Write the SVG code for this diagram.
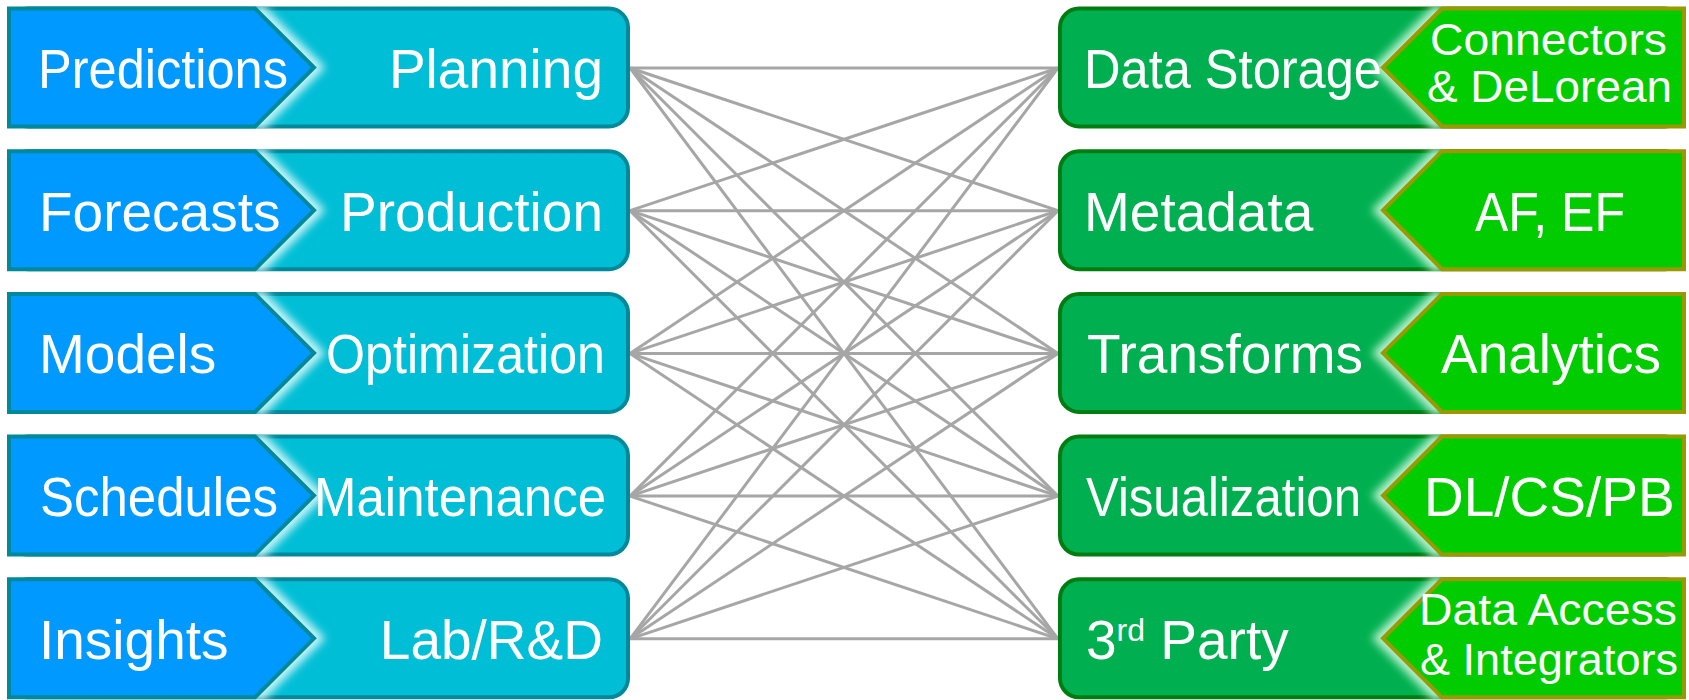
<svg xmlns="http://www.w3.org/2000/svg" width="1689" height="700" viewBox="0 0 1689 700">
  <style>
    .lbl { font-family: "Liberation Sans", Arial, sans-serif; font-size: 55px; fill: #ffffff; }
    .sm { font-size: 44px; }
    .end { text-anchor: end; }
    .box-l { fill: #00BED6; stroke: #00899A; stroke-width: 4; }
    .chev-l { fill: #0099FF; stroke: #00899A; stroke-width: 4; stroke-linejoin: miter; }
    .glow-l { fill: none; stroke: #C8F4F8; stroke-width: 16; filter: url(#blur); }
    .box-r { fill: #00B050; stroke: #007D10; stroke-width: 4; }
    .chev-r { fill: #00CC00; stroke: #999900; stroke-width: 4; stroke-linejoin: miter; }
    .glow-r { fill: none; stroke: #B8F0CE; stroke-width: 16; filter: url(#blur); }
    .links line { stroke: #A6A6A6; stroke-width: 3; }
  </style>
  <defs>
    <filter id="blur" x="-100%" y="-20%" width="300%" height="140%">
      <feGaussianBlur stdDeviation="4"/>
    </filter>
    <clipPath id="clipL"><rect x="7" y="6.5" width="623" height="122" rx="21"/></clipPath>
    <clipPath id="clipR"><rect x="1058" y="6.5" width="628" height="122" rx="21"/></clipPath>
  </defs>

  <rect width="1689" height="700" fill="#ffffff"/>

  <!-- every output on the left is linked to every service on the right -->
  <g id="connectors" class="links">
    <line x1="630" y1="68" x2="1058" y2="68"/>
    <line x1="630" y1="68" x2="1058" y2="210.7"/>
    <line x1="630" y1="68" x2="1058" y2="353.4"/>
    <line x1="630" y1="68" x2="1058" y2="496.1"/>
    <line x1="630" y1="68" x2="1058" y2="638.8"/>
    <line x1="630" y1="210.7" x2="1058" y2="68"/>
    <line x1="630" y1="210.7" x2="1058" y2="210.7"/>
    <line x1="630" y1="210.7" x2="1058" y2="353.4"/>
    <line x1="630" y1="210.7" x2="1058" y2="496.1"/>
    <line x1="630" y1="210.7" x2="1058" y2="638.8"/>
    <line x1="630" y1="353.4" x2="1058" y2="68"/>
    <line x1="630" y1="353.4" x2="1058" y2="210.7"/>
    <line x1="630" y1="353.4" x2="1058" y2="353.4"/>
    <line x1="630" y1="353.4" x2="1058" y2="496.1"/>
    <line x1="630" y1="353.4" x2="1058" y2="638.8"/>
    <line x1="630" y1="496.1" x2="1058" y2="68"/>
    <line x1="630" y1="496.1" x2="1058" y2="210.7"/>
    <line x1="630" y1="496.1" x2="1058" y2="353.4"/>
    <line x1="630" y1="496.1" x2="1058" y2="496.1"/>
    <line x1="630" y1="496.1" x2="1058" y2="638.8"/>
    <line x1="630" y1="638.8" x2="1058" y2="68"/>
    <line x1="630" y1="638.8" x2="1058" y2="210.7"/>
    <line x1="630" y1="638.8" x2="1058" y2="353.4"/>
    <line x1="630" y1="638.8" x2="1058" y2="496.1"/>
    <line x1="630" y1="638.8" x2="1058" y2="638.8"/>
  </g>

  <!-- left column: chevron output + business area -->
  <g id="node-planning">
    <rect class="box-l" x="9" y="8.5" width="619" height="118" rx="19"/>
    <polyline class="glow-l" clip-path="url(#clipL)" points="255,8.5 314,67.5 255,126.5"/>
    <polygon class="chev-l" points="9,8.5 255,8.5 314,67.5 255,126.5 9,126.5"/>
    <text class="lbl" x="38" y="88" textLength="250" lengthAdjust="spacingAndGlyphs">Predictions</text>
    <text class="lbl end" x="603" y="88">Planning</text>
  </g>
  <g id="node-production" transform="translate(0,142.7)">
    <rect class="box-l" x="9" y="8.5" width="619" height="118" rx="19"/>
    <polyline class="glow-l" clip-path="url(#clipL)" points="255,8.5 314,67.5 255,126.5"/>
    <polygon class="chev-l" points="9,8.5 255,8.5 314,67.5 255,126.5 9,126.5"/>
    <text class="lbl" x="39" y="88">Forecasts</text>
    <text class="lbl end" x="603" y="88">Production</text>
  </g>
  <g id="node-optimization" transform="translate(0,285.4)">
    <rect class="box-l" x="9" y="8.5" width="619" height="118" rx="19"/>
    <polyline class="glow-l" clip-path="url(#clipL)" points="255,8.5 314,67.5 255,126.5"/>
    <polygon class="chev-l" points="9,8.5 255,8.5 314,67.5 255,126.5 9,126.5"/>
    <text class="lbl" x="39" y="88">Models</text>
    <text class="lbl" x="326" y="88" textLength="279" lengthAdjust="spacingAndGlyphs">Optimization</text>
  </g>
  <g id="node-maintenance" transform="translate(0,428.1)">
    <rect class="box-l" x="9" y="8.5" width="619" height="118" rx="19"/>
    <polyline class="glow-l" clip-path="url(#clipL)" points="255,8.5 314,67.5 255,126.5"/>
    <polygon class="chev-l" points="9,8.5 255,8.5 314,67.5 255,126.5 9,126.5"/>
    <text class="lbl" x="40" y="88" textLength="238" lengthAdjust="spacingAndGlyphs">Schedules</text>
    <text class="lbl" x="314" y="88" textLength="292" lengthAdjust="spacingAndGlyphs">Maintenance</text>
  </g>
  <g id="node-lab" transform="translate(0,570.8)">
    <rect class="box-l" x="9" y="8.5" width="619" height="118" rx="19"/>
    <polyline class="glow-l" clip-path="url(#clipL)" points="255,8.5 314,67.5 255,126.5"/>
    <polygon class="chev-l" points="9,8.5 255,8.5 314,67.5 255,126.5 9,126.5"/>
    <text class="lbl" x="39" y="88">Insights</text>
    <text class="lbl end" x="603" y="88">Lab/R&amp;D</text>
  </g>

  <!-- right column: platform service + the components behind it -->
  <g id="node-data-storage">
    <rect class="box-r" x="1060" y="8.5" width="624" height="118" rx="19"/>
    <polyline class="glow-r" clip-path="url(#clipR)" points="1442,8.5 1383,67.5 1442,126.5"/>
    <polygon class="chev-r" points="1684,8.5 1442,8.5 1383,67.5 1442,126.5 1684,126.5"/>
    <text class="lbl" x="1084" y="88" textLength="298" lengthAdjust="spacingAndGlyphs">Data Storage</text>
    <text class="lbl sm" x="1430" y="55" textLength="237" lengthAdjust="spacingAndGlyphs">Connectors</text>
    <text class="lbl sm" x="1427" y="102" textLength="245" lengthAdjust="spacingAndGlyphs">&amp; DeLorean</text>
  </g>
  <g id="node-metadata" transform="translate(0,142.7)">
    <rect class="box-r" x="1060" y="8.5" width="624" height="118" rx="19"/>
    <polyline class="glow-r" clip-path="url(#clipR)" points="1442,8.5 1383,67.5 1442,126.5"/>
    <polygon class="chev-r" points="1684,8.5 1442,8.5 1383,67.5 1442,126.5 1684,126.5"/>
    <text class="lbl" x="1084" y="88">Metadata</text>
    <text class="lbl" x="1475" y="88" textLength="150" lengthAdjust="spacingAndGlyphs">AF, EF</text>
  </g>
  <g id="node-transforms" transform="translate(0,285.4)">
    <rect class="box-r" x="1060" y="8.5" width="624" height="118" rx="19"/>
    <polyline class="glow-r" clip-path="url(#clipR)" points="1442,8.5 1383,67.5 1442,126.5"/>
    <polygon class="chev-r" points="1684,8.5 1442,8.5 1383,67.5 1442,126.5 1684,126.5"/>
    <text class="lbl" x="1087" y="88">Transforms</text>
    <text class="lbl" x="1441" y="88">Analytics</text>
  </g>
  <g id="node-visualization" transform="translate(0,428.1)">
    <rect class="box-r" x="1060" y="8.5" width="624" height="118" rx="19"/>
    <polyline class="glow-r" clip-path="url(#clipR)" points="1442,8.5 1383,67.5 1442,126.5"/>
    <polygon class="chev-r" points="1684,8.5 1442,8.5 1383,67.5 1442,126.5 1684,126.5"/>
    <text class="lbl" x="1086" y="88" textLength="275" lengthAdjust="spacingAndGlyphs">Visualization</text>
    <text class="lbl" x="1424" y="88">DL/CS/PB</text>
  </g>
  <g id="node-third-party" transform="translate(0,570.8)">
    <rect class="box-r" x="1060" y="8.5" width="624" height="118" rx="19"/>
    <polyline class="glow-r" clip-path="url(#clipR)" points="1442,8.5 1383,67.5 1442,126.5"/>
    <polygon class="chev-r" points="1684,8.5 1442,8.5 1383,67.5 1442,126.5 1684,126.5"/>
    <text class="lbl" x="1086" y="88">3<tspan font-size="32" dy="-18">rd</tspan><tspan dy="18"> Party</tspan></text>
    <text class="lbl sm" x="1419" y="54" textLength="258" lengthAdjust="spacingAndGlyphs">Data Access</text>
    <text class="lbl sm" x="1420" y="104" textLength="258" lengthAdjust="spacingAndGlyphs">&amp; Integrators</text>
  </g>
</svg>
